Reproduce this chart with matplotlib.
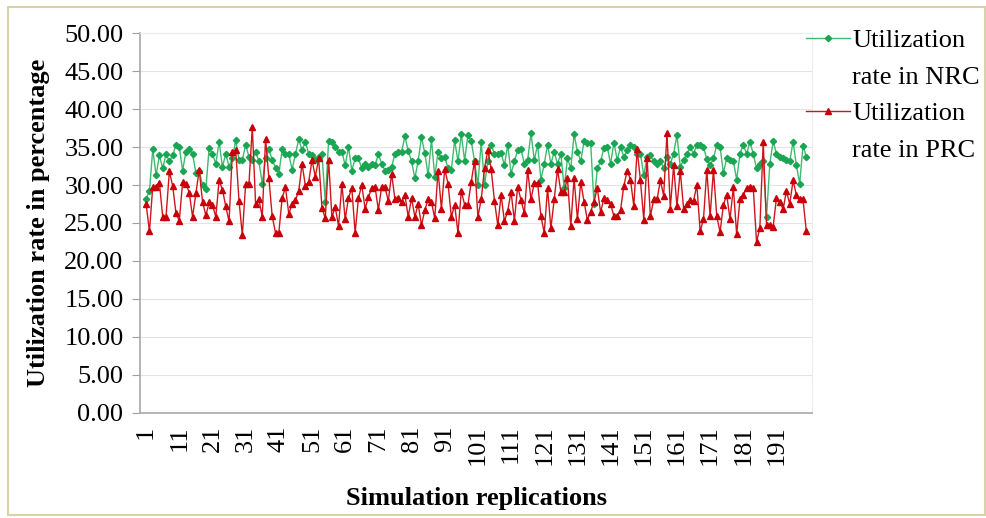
import matplotlib
matplotlib.use("Agg")
import matplotlib.pyplot as plt
from matplotlib.lines import Line2D
from matplotlib.patches import Rectangle

plt.rcParams["font.family"] = ["Liberation Serif", "DejaVu Serif"]

# utilization (%) per simulation replication, 200 replications
nrc = [
    28.2, 29.2, 34.7, 31.3, 33.9, 32.2, 34.1, 33.1, 33.9, 35.3, 35.0, 31.9, 34.4, 34.7, 34.1, 31.6,
    31.9, 30.0, 29.5, 34.9, 34.1, 32.8, 35.7, 32.4, 34.1, 32.4, 33.5, 35.9, 33.3, 33.3, 35.3,
    33.7, 33.3, 34.4, 33.1, 30.2, 33.5, 34.7, 33.3, 32.3, 31.5, 34.7, 34.1, 34.1, 32.0, 34.1, 36.0,
    34.6, 35.7, 34.1, 33.9, 33.3, 33.7, 34.1, 27.8, 35.8, 35.7, 35.0, 34.4, 34.4, 32.6, 35.0, 31.9, 33.5,
    33.5, 32.2, 32.8, 32.4, 32.8, 32.6, 34.1, 32.8, 31.9, 32.0, 32.4, 34.1, 34.4, 34.4, 36.4, 34.5,
    33.1, 30.9, 33.2, 36.3, 34.2, 31.3, 36.0, 31.1, 34.4, 33.5, 33.7, 32.2, 32.0, 35.9, 33.1, 36.7, 33.2,
    36.6, 35.8, 33.1, 30.0, 35.7, 30.0, 33.1, 35.3, 34.1, 34.1, 34.2, 32.6, 35.3, 31.5, 33.1, 34.6,
    34.7, 32.8, 33.3, 36.8, 33.3, 35.3, 30.7, 32.8, 35.3, 32.8, 34.4, 32.8, 34.1, 29.6, 33.5, 32.2, 36.7,
    34.4, 33.1, 35.8, 35.5, 35.5, 27.5, 32.2, 33.1, 34.9, 35.0, 32.8, 35.6, 33.3, 35.0, 33.7, 34.6, 35.3,
    35.0, 34.1, 34.1, 31.3, 33.7, 33.9, 33.1, 32.8, 33.2, 32.2, 33.7, 32.8, 34.1, 36.6, 32.4, 33.3, 34.1,
    35.0, 34.1, 35.3, 35.3, 35.0, 33.4, 32.6, 33.5, 35.3, 35.0, 31.6, 33.5, 33.3, 33.2, 30.7, 34.1, 35.3,
    34.1, 35.7, 34.1, 32.2, 32.8, 33.1, 25.8, 32.8, 35.8, 34.1, 33.7, 33.5, 33.3, 33.1, 35.7, 32.6, 30.2,
    35.2, 33.7,
]
prc = [
    27.5, 23.9, 29.8, 29.8, 30.3, 25.8, 25.8, 31.8, 29.9, 26.3, 25.3, 30.4, 30.2, 29.0, 25.8, 28.9, 32.0,
    27.8, 26.0, 27.7, 27.4, 25.8, 30.6, 29.4, 27.2, 25.2, 34.4, 34.6, 27.9, 23.4, 30.2, 30.2, 37.6,
    27.5, 28.1, 25.8, 36.1, 30.9, 25.9, 23.7, 23.7, 28.3, 29.7, 26.2, 27.5, 28.0, 29.2, 32.8, 29.9,
    30.4, 33.3, 31.1, 33.5, 27.0, 25.6, 33.3, 25.8, 27.1, 24.6, 30.1, 25.5, 28.3, 29.6, 23.7, 28.3,
    30.0, 26.9, 28.4, 29.6, 29.8, 26.7, 29.8, 29.7, 27.9, 31.5, 28.1, 28.3, 27.8, 28.7, 25.8, 28.3, 25.8,
    27.5, 24.7, 26.7, 28.1, 27.8, 25.6, 31.9, 26.9, 32.1, 30.2, 25.8, 27.4, 23.7, 29.2, 27.4, 27.4, 30.4,
    33.2, 25.8, 28.1, 32.2, 34.6, 32.1, 27.9, 24.7, 28.7, 25.2, 26.6, 29.1, 25.3, 29.8, 28.0, 26.3,
    32.0, 28.1, 30.3, 30.3, 25.9, 23.7, 29.6, 24.3, 28.1, 32.1, 29.1, 29.1, 30.9, 24.6, 30.9, 25.5,
    30.4, 27.8, 25.4, 26.5, 27.8, 29.6, 26.4, 28.3, 28.0, 27.5, 25.9, 25.9, 26.7, 29.9, 31.9, 30.7, 27.2,
    34.7, 30.6, 25.4, 33.5, 25.9, 28.1, 28.1, 30.6, 28.6, 36.9, 26.9, 32.6, 27.2, 31.9, 26.9, 27.5, 28.0,
    27.9, 30.0, 23.9, 25.5, 32.0, 25.9, 32.0, 25.9, 23.8, 27.4, 28.7, 25.5, 29.7, 23.5, 28.1, 28.7, 29.6,
    29.7, 29.6, 22.5, 24.4, 35.7, 24.7, 24.7, 24.5, 28.3, 27.8, 26.8, 29.2, 27.5, 30.6, 28.7, 28.1, 28.1,
    23.9,
]
reps = list(range(1, len(nrc) + 1))
reps_prc = list(range(1, len(prc) + 1))
xtick_vals = list(range(1, 200, 10))
yticks = [0, 5, 10, 15, 20, 25, 30, 35, 40, 45, 50]

fig = plt.figure(figsize=(9.87, 5.18), dpi=100)
ax = fig.add_axes([0.142, 0.203, 0.681, 0.733])

l_nrc, = ax.plot(reps, nrc, color="#3dbb6e", lw=1.0, marker="D", ms=3.2,
                 mfc="#1aa553", mec="#1aa553")
l_prc, = ax.plot(reps_prc, prc, color="#d0141c", lw=1.0, marker="^", ms=4.5,
                 mfc="#c8000a", mec="#c8000a")

ax.set_ylim(0, 50)
ax.set_xlim(-0.8, 201.8)
ax.set_yticks(yticks)
ax.set_yticklabels([f"{v:.2f}" for v in yticks], fontsize=19)
ax.set_xticks(xtick_vals)
ax.set_xticklabels([str(v) for v in xtick_vals], rotation=90, fontsize=19)
ax.tick_params(axis="x", length=0, pad=9)
ax.tick_params(axis="y", length=6, color="#a0a0a0", direction="out", pad=6)
ax.yaxis.grid(True, color="#e4e4e4", lw=0.8)
ax.set_axisbelow(True)
for side in ["top", "right"]:
    ax.spines[side].set_color("#ececec")
for side in ["left", "bottom"]:
    ax.spines[side].set_color("#a8a8a8")
    ax.spines[side].set_linewidth(1.2)

ax.set_ylabel("Utilization rate in percentage", fontsize=19, fontweight="bold", labelpad=10)
ax.set_xlabel("Simulation replications", fontsize=19, fontweight="bold", labelpad=16)

# legend: handle sits beside the first line of each two-line label
blank = Line2D([], [], color="none")
ax.legend([l_nrc, blank, l_prc, blank],
          ["Utilization", "rate in NRC", "Utilization", "rate in PRC"],
          loc="upper left", bbox_to_anchor=(0.975, 1.04), frameon=False,
          fontsize=19, handlelength=1.65, handletextpad=0.1,
          labelspacing=0.5, borderaxespad=0)

# thin chart border
fig.patches.append(Rectangle((0.008, 0.006), 0.99, 0.98, transform=fig.transFigure,
                             fill=False, edgecolor="#d9d2a6", lw=1.5))

fig.savefig("out.png", dpi=100)
